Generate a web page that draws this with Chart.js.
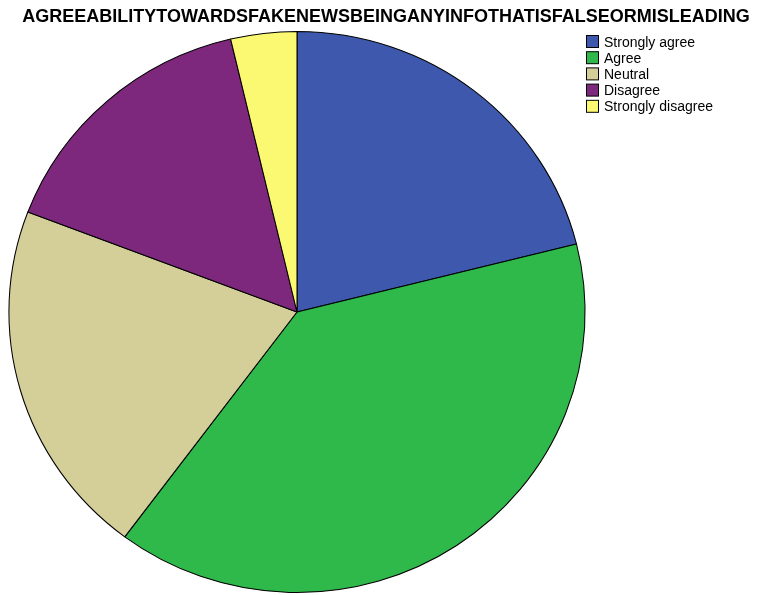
<!DOCTYPE html>
<html>
<head>
<meta charset="utf-8">
<script src="https://cdn.jsdelivr.net/npm/chart.js@4"></script>
<style>
html,body{margin:0;padding:0;background:#fff;}
#wrap{width:766px;height:595px;position:relative;}
</style>
</head>
<body>
<div id="wrap"><canvas id="c" width="766" height="595"></canvas></div>
<script>
const titleText = "AGREEABILITYTOWARDSFAKENEWSBEINGANYINFOTHATISFALSEORMISLEADING";
const categories = ["Strongly agree", "Agree", "Neutral", "Disagree", "Strongly disagree"];
const percentages = [21.1, 39.1, 20.6, 15.5, 3.7];
const colors = ["#3e58ad", "#2fb94a", "#d4ce99", "#7d287c", "#fbf872"];

const stretch = {
  id: 'stretch',
  beforeDatasetsDraw(chart) {
    const a = chart.chartArea;
    const cx = (a.left + a.right) / 2;
    chart.ctx.save();
    chart.ctx.translate(cx, 0);
    chart.ctx.scale(1.027, 1);
    chart.ctx.translate(-cx, 0);
  },
  afterDatasetsDraw(chart) {
    chart.ctx.restore();
  }
};

const customDraw = {
  id: 'customDraw',
  afterDraw(chart) {
    const ctx = chart.ctx;
    ctx.save();
    ctx.fillStyle = '#000';
    ctx.font = 'bold 18px "Liberation Sans", Arial, sans-serif';
    ctx.textAlign = 'center';
    ctx.textBaseline = 'alphabetic';
    ctx.fillText(titleText, 386, 22);
    ctx.font = '14px "Liberation Sans", Arial, sans-serif';
    ctx.textAlign = 'left';
    const labels = chart.data.labels;
    const bg = chart.data.datasets[0].backgroundColor;
    for (let i = 0; i < labels.length; i++) {
      const y = 35 + i * 16.2;
      ctx.fillStyle = bg[i];
      ctx.fillRect(586.5, y + 0.5, 12, 12);
      ctx.strokeStyle = '#000';
      ctx.lineWidth = 1;
      ctx.strokeRect(586.5, y + 0.5, 12, 12);
      ctx.fillStyle = '#000';
      ctx.fillText(labels[i], 604, y + 11.5);
    }
    ctx.restore();
  }
};

new Chart(document.getElementById('c'), {
  type: 'pie',
  data: {
    labels: categories,
    datasets: [{
      data: percentages,
      backgroundColor: colors,
      borderColor: '#000',
      borderWidth: 1
    }]
  },
  options: {
    responsive: false,
    animation: false,
    layout: { padding: { left: 16, right: 188, top: 31, bottom: 2 } },
    plugins: {
      legend: { display: false },
      title: { display: false },
      tooltip: { enabled: false }
    }
  },
  plugins: [stretch, customDraw]
});
</script>
</body>
</html>
